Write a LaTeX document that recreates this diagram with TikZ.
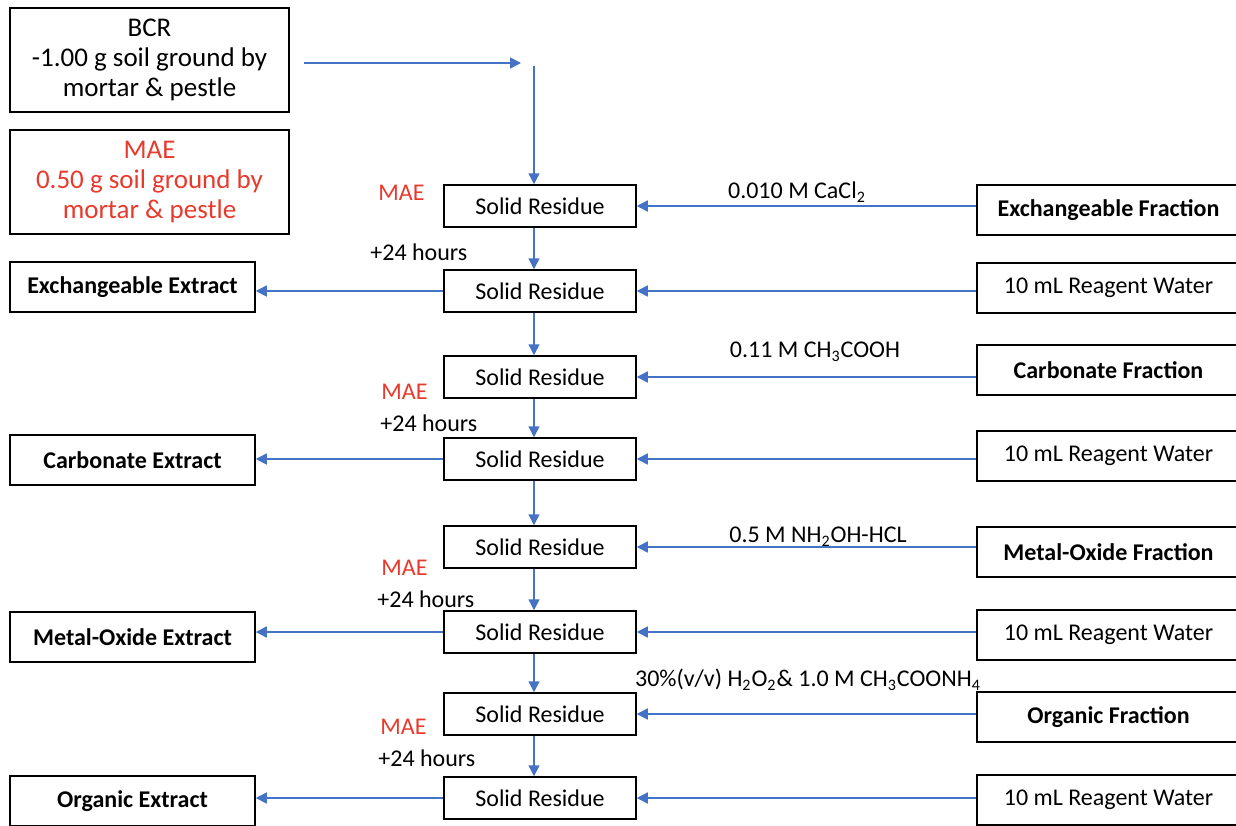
\documentclass[tikz,border=0pt]{standalone}
\usepackage{fontspec}
\setmainfont{Carlito}
\usetikzlibrary{arrows.meta}
\definecolor{ablue}{RGB}{68,114,196}
\definecolor{ared}{RGB}{232,58,44}
\begin{document}
\begin{tikzpicture}[x=0.5pt,y=-0.5pt,
  every node/.style={font=\fontsize{12}{15}\selectfont, inner sep=0pt},
  box/.style={draw=black, line width=0.75pt, align=center},
  srbox/.style={box, minimum width=96pt, minimum height=21pt},
  exbox/.style={box, minimum width=122.5pt, minimum height=25pt, font=\fontsize{12}{15}\selectfont\bfseries},
  frbox/.style={box, minimum width=131.5pt, minimum height=25pt},
  frbold/.style={frbox, font=\fontsize{12}{15}\selectfont\bfseries},
  topbox/.style={box, minimum width=139.5pt, minimum height=52pt, font=\fontsize{13.5}{15}\selectfont},
  arr/.style={draw=ablue, line width=0.75pt, -{Triangle[length=5.5pt,width=5.5pt]}},
  maelbl/.style={text=ared},
]
\useasboundingbox (0,0) rectangle (1236,825);
\clip (0,0) rectangle (1236,825);

% top boxes
\node[topbox] (bcr) at (149.5,60) {BCR\\-1.00 g soil ground by\\mortar \& pestle};
\node[topbox, text=ared] (maebox) at (149.5,182) {MAE\\0.50 g soil ground by\\mortar \& pestle};

% solid residue column
\node[srbox] (sr1) at (540,206) {Solid Residue};
\node[srbox] (sr2) at (540,291) {Solid Residue};
\node[srbox] (sr3) at (540,377) {Solid Residue};
\node[srbox] (sr4) at (540,459) {Solid Residue};
\node[srbox] (sr5) at (540,547) {Solid Residue};
\node[srbox] (sr6) at (540,632) {Solid Residue};
\node[srbox] (sr7) at (540,714) {Solid Residue};
\node[srbox] (sr8) at (540,798) {Solid Residue};

% right boxes
\node[frbold] (f1) at (1108.5,210) {Exchangeable Fraction};
\node[frbox]  (w1) at (1108.5,288) {10 mL Reagent Water};
\node[frbold] (f2) at (1108.5,370) {Carbonate Fraction};
\node[frbox]  (w2) at (1108.5,456) {10 mL Reagent Water};
\node[frbold] (f3) at (1108.5,552) {Metal-Oxide Fraction};
\node[frbox]  (w3) at (1108.5,635) {10 mL Reagent Water};
\node[frbold] (f4) at (1108.5,717) {Organic Fraction};
\node[frbox]  (w4) at (1108.5,800) {10 mL Reagent Water};

% left extract boxes
\node[exbox] (e1) at (132.5,287) {Exchangeable Extract};
\node[exbox] (e2) at (132.5,460) {Carbonate Extract};
\node[exbox] (e3) at (132.5,637) {Metal-Oxide Extract};
\node[exbox] (e4) at (132.5,801) {Organic Extract};

% labels
\node (l1) at (797,192) {0.010 M CaCl\textsubscript{2}};
\node (l2) at (815,352) {0.11 M CH\textsubscript{3}COOH};
\node (l3) at (818,537) {0.5 M NH\textsubscript{2}OH-HCL};
\node (l4) at (808,680) {30\%(v/v) H\textsubscript{2}O\textsubscript{2}\& 1.0 M CH\textsubscript{3}COONH\textsubscript{4}};

\node[maelbl, anchor=west] (m1) at (378,193) {MAE};
\node[anchor=west] (h1) at (370,252) {+24 hours};
\node[maelbl, anchor=west] (m2) at (381,392) {MAE};
\node[anchor=west] (h2) at (380,423) {+24 hours};
\node[maelbl, anchor=west] (m3) at (381,568) {MAE};
\node[anchor=west] (h3) at (377,599) {+24 hours};
\node[maelbl, anchor=west] (m4) at (380,727) {MAE};
\node[anchor=west] (h4) at (378,758) {+24 hours};

% top connectors
\coordinate (t1) at (304,63);
\coordinate (t2) at (521,63);
\coordinate (t3) at (534,66);
\draw[arr] (t1) -- (t2);
\draw[arr] (t3) -- (t3 |- sr1.north);

% vertical connectors
\foreach \a/\b in {sr1/sr2,sr2/sr3,sr3/sr4,sr4/sr5,sr5/sr6,sr6/sr7,sr7/sr8}
  \draw[arr] ([xshift=-3pt]\a.south) -- ([xshift=-3pt]\b.north);

% from right boxes
\foreach \f/\s in {f1/sr1,w1/sr2,f2/sr3,w2/sr4,f3/sr5,w3/sr6,f4/sr7,w4/sr8}
  \draw[arr] (\f.west |- \s.east) -- (\s.east);

% to extracts
\foreach \s/\e in {sr2/e1,sr4/e2,sr6/e3,sr8/e4}
  \draw[arr] (\s.west) -- (\e.east |- \s.west);
\end{tikzpicture}
\end{document}
